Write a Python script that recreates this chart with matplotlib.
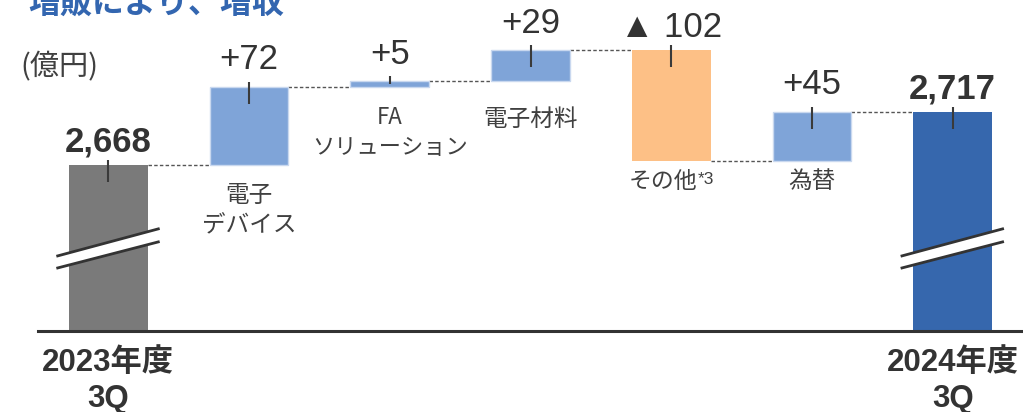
import matplotlib
matplotlib.use("Agg")
import matplotlib.pyplot as plt
import numpy as np

# ---------------- data ----------------
categories = ["2023年度\n3Q", "電子\nデバイス", "FA\nソリューション", "電子材料",
              "その他", "為替", "2024年度\n3Q"]
start_total = 2668
deltas = [72, 5, 29, -102, 45]
end_total = 2717
value_labels = ["2,668", "+72", "+5", "+29", "▲ 102", "+45", "2,717"]
footnote_mark = "*3"          # attached to "その他"
title_text = "増販により、増収"
unit_text = "(億円)"

# ---------------- style ----------------
C_START = "#7a7a7a"
C_UP = "#7fa4d8"
C_DOWN = "#fdc086"
C_END = "#3667ad"
C_TEXT = "#333333"
C_LABEL = "#404040"
LAT = ["Liberation Sans", "DejaVu Sans", "Noto Sans CJK JP"]
JP = ["Noto Sans CJK JP", "Liberation Sans", "DejaVu Sans"]

axis_floor = 2515     # broken value axis starts here
axis_top = 2820
bar_w = 0.56

# ---------------- derived geometry ----------------
after = start_total + np.cumsum(deltas)
before = np.concatenate([[start_total], after[:-1]])
n = len(categories)
xs = np.arange(n)

bottoms = [axis_floor] + list(np.minimum(before, after)) + [axis_floor]
tops = [start_total] + list(np.maximum(before, after)) + [end_total]
heights = [t - b for t, b in zip(tops, bottoms)]
colors = [C_START] + [C_UP if d > 0 else C_DOWN for d in deltas] + [C_END]
levels = [start_total] + list(after)   # running total to the right of each bar

fig = plt.figure(figsize=(10.23, 4.12), dpi=100)
ax = fig.add_axes([38 / 1023, 81 / 412, 985 / 1023, 331 / 412])
ax.set_xlim(-0.5, n - 0.5)
ax.set_ylim(axis_floor, axis_top)

edge = ["none"] + ["#c9d8ef" if d > 0 else "none" for d in deltas] + ["none"]
ax.bar(xs, heights, bottom=bottoms, width=bar_w, color=colors,
       edgecolor=edge, linewidth=1.0, zorder=2)

# dashed connectors between bars
for i in range(n - 1):
    ax.plot([xs[i] + bar_w / 2, xs[i + 1] - bar_w / 2], [levels[i], levels[i]],
            color="#555555", lw=1.0, ls=(0, (2.5, 1.6)), zorder=1)

# short leader ticks at bar tops
for i in range(n):
    down = min(15.7, 0.55 * heights[i])
    ax.plot([xs[i], xs[i]], [tops[i] + 4.6, tops[i] - down],
            color="#3a3a3a", lw=1.5, zorder=3, solid_capstyle="butt")

# value labels
for i in range(n):
    total = i in (0, n - 1)
    neg = (not total) and deltas[i - 1] < 0
    off = 9.5 if (total or neg) else 12.5
    ax.annotate(value_labels[i], xy=(xs[i], tops[i]), xytext=(0, off),
                textcoords="offset points", ha="center", va="baseline",
                fontsize=25, color=C_TEXT, family=LAT,
                fontweight="bold" if total else "normal", zorder=4)

# category labels under the step bars
gaps = {1: 13.5, 2: 14, 3: 19, 4: 7, 5: 7}
sizes = {1: 17, 2: 16, 3: 17, 4: 16.5, 5: 17}
spacing = {1: 1.45, 2: 1.35, 3: 1.2, 4: 1.2, 5: 1.2}
for i in range(1, n - 1):
    shift = -5.8 if i == 4 else 0
    t = ax.annotate(categories[i], xy=(xs[i], bottoms[i]),
                    xytext=(shift, -gaps[i]), textcoords="offset points",
                    ha="center", va="top", multialignment="center",
                    fontsize=sizes[i], color=C_LABEL, family=JP,
                    linespacing=spacing[i])
    if i == 4:
        ax.annotate(footnote_mark, xy=(1, 1), xycoords=t, xytext=(0.5, -1),
                    textcoords="offset points", ha="left", va="top",
                    fontsize=12.5, color=C_LABEL, family=LAT)

# axis-break marks on the two total bars
for i in (0, n - 1):
    x0, x1 = xs[i] - 0.36, xs[i] + 0.355
    lo = (2573.1, 2597.1)
    hi = (2584.2, 2609.1)
    ax.fill([x0, x1, x1, x0], [lo[0], lo[1], hi[1], hi[0]],
            color="white", zorder=5, lw=0)
    ax.plot([x0, x1], hi, color="#333333", lw=2.0, zorder=6)
    ax.plot([x0, x1], lo, color="#333333", lw=2.0, zorder=6)

# axes cosmetics
for s in ("top", "left", "right"):
    ax.spines[s].set_visible(False)
ax.spines["bottom"].set_color("#333333")
ax.spines["bottom"].set_linewidth(2.2)
ax.set_yticks([])
ax.set_xticks([xs[0], xs[-1]])
ax.set_xticklabels([categories[0], categories[-1]], fontsize=22.5,
                   fontweight="bold", color=C_TEXT, family=LAT,
                   linespacing=1.27)
ax.tick_params(axis="x", length=0, pad=12)

fig.text(28 / 1023, 1 - 13 / 412, title_text, fontsize=23, fontweight="bold",
         color="#3366b0", family=JP, ha="left", va="baseline")
fig.text(59 / 1023, 1 - 67 / 412, unit_text, fontsize=21, color=C_LABEL,
         family=JP, ha="center", va="center")

fig.savefig("out.png", dpi=100)
